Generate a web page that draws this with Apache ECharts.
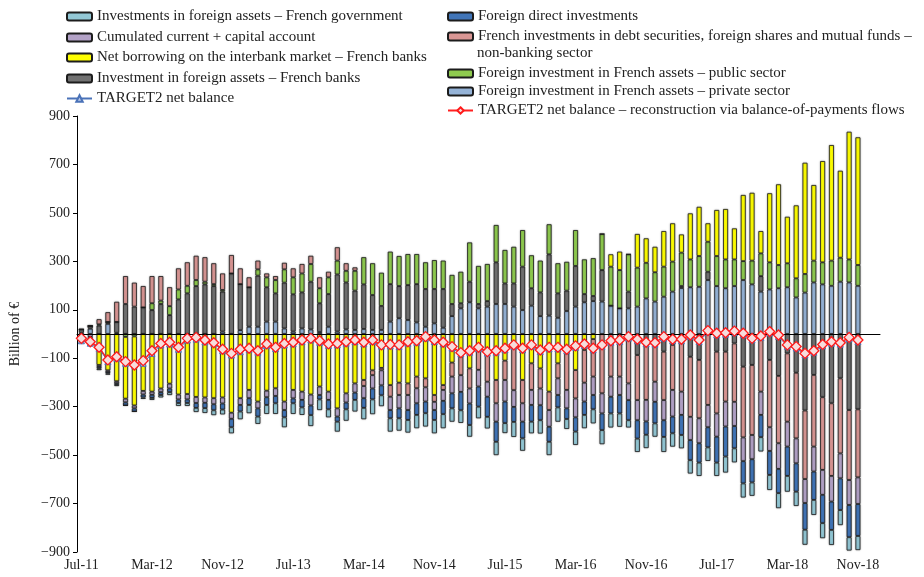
<!DOCTYPE html>
<html>
<head>
<meta charset="utf-8">
<script src="https://cdn.jsdelivr.net/npm/echarts@6/dist/echarts.min.js"></script>
<style>html,body{margin:0;padding:0;background:#fff}#chart{width:924px;height:577px}</style>
</head>
<body>
<div id="chart"></div>
<script>
var chart = echarts.init(document.getElementById('chart'));

var FONT = '"Liberation Serif", "DejaVu Serif", serif';

// months Jul-11 .. Nov-18, plus two empty slots at the right end of the axis
var monthNames = ['Jan','Feb','Mar','Apr','May','Jun','Jul','Aug','Sep','Oct','Nov','Dec'];
var months = [];
for (var k = 0; k < 89; k++) {
  months.push(monthNames[(6 + k) % 12] + '-' + (11 + Math.floor((6 + k) / 12)));
}
months.push('', '');

var yTicks = [-900, 900, 200];

// billion €
var privateSector = [5,22,0,42,5,0,0,0,0,0, 0,0,0,0,0,0,10,0,16,30, 30,51,51,23,10,23,19,8,30,10,
  19,17,21,17,17,51,65,58,48,30, 44,26,74,106,131,106,113,124,124,113, 99,117,74,76,67,95,113,131,136,134,
  117,106,106,113,147,134,154,175,190,193, 195,223,198,189,198,223,205,175,184,189, 193,151,171,213,205,199,216,213,199];
var banksInvest = [14,11,35,8,45,124,113,110,99,124, 78,143,168,198,205,198,165,250,190,163,
  211,142,117,189,154,149,197,119,135,236, 194,162,184,144,99,155,133,144,158,156,
  142,160,50,21,85,18,23,172,85,96, 179,72,98,253,101,84,168,34,21,130,
  0,0,69,-87,-45,-39,-73,-45,8,-94, -107,34,-73,-73,-39,-135,-128,64,-107,-173,
  -80,-160,-316,-169,-261,-286,-183,-314,-311];
var publicSector = [0,0,5,0,0,-12,-10,0,28,14, 37,41,31,25,11,8,7,0,0,0,
  26,41,55,55,70,78,73,62,69,57, 48,82,112,131,137,134,124,128,124,110,
  119,117,120,130,162,157,153,154,138,151, 151,136,131,124,124,119,148,143,156,149,
  161,158,154,161,147,121,124,124,138,115, 127,124,124,119,110,78,98,94,112,96,
  99,79,77,90,91,104,99,95,86];
var interbank = [0,0,-128,-150,-195,-255,-285,-235,-238,-225, -205,-250,-248,-260,-262,-265,-262,-325,-265,-231,
  -279,-234,-224,-279,-231,-238,-250,-217,-238,-307, -245,-204,-190,-150,-140,-211,-201,-204,-176,-183,
  -252,-211,-118,-94,-142,-45,-87,-190,-110,-39, -190,-121,-142,-238,-121,-80,-149,-66,-21,0,
  51,76,0,139,101,105,147,158,75,190, 203,76,190,208,128,273,280,92,285,333,
  192,301,459,312,418,477,359,527,527];
var debtSecurities = [0,0,21,40,83,115,99,88,112,101, 78,87,97,100,101,86,68,76,65,41,
  36,16,16,27,37,39,34,45,23,55, 31,14,-25,-20,-10,-48,-51,-48,-48,-37,
  -28,-20,-58,-76,-83,-103,-110,-96,-80,-193, -96,-110,-83,-76,-62,-151,-117,-135,-155,-245,
  -176,-176,-204,-186,-227,-158,-200,-186,-238,-248, -241,-293,-255,-206,-241,-292,-289,-238,-278,-278,
  -282,-271,-283,-296,-300,-300,-310,-289,-281];
var currentAccount = [-10,-12,-8,-7,-8,-15,-12,-15,-13,-15, -20,-20,-22,-25,-22,-25,-25,-25,-28,-34,
  -28,-27,-32,-35,-35,-34,-45,-35,-34,-34, -38,-38,-50,-55,-62,-55,-55,-62,-62,-59,
  -34,-45,-69,-69,-62,-69,-62,-76,-89,-69, -76,-62,-69,-69,-69,-76,-78,-78,-76,-83,
  -83,-76,-69,-83,-89,-83,-83,-110,-96,-96, -103,-92,-96,-103,-100,-98,-100,-96,-98,-106,
  -103,-103,-99,-103,-103,-106,-103,-103,-110];
var fdi = [-18,-18,-7,-6,-7,-13,-13,-12,-13,-12, -15,-15,-15,-20,-22,-25,-25,-35,-27,-28,
  -34,-32,-30,-30,-20,-31,-40,-18,-39,-21, -28,-30,-40,-45,-41,-34,-41,-41,-48,-48,
  -41,-55,-62,-76,-89,-83,-83,-83,-89,-62, -69,-69,-62,-62,-51,-44,-59,-55,-59,-69,
  -69,-76,-83,-76,-55,-89,-69,-69,-83,-83, -80,-83,-107,-124,-92,-92,-96,-92,-99,-100,
  -121,-117,-110,-117,-117,-117,-131,-133,-132];
var government = [-10,-15,-6,-5,-5,0,0,-6,-8,-10, -12,-12,-12,-17,-20,-20,-20,-25,-32,-34,
  -30,-37,-44,-41,-44,-31,-45,-44,-33,-41, -47,-48,-47,-61,-45,-55,-51,-52,-55,-55,
  -55,-58,-55,-52,-48,-48,-48,-55,-41,-62, -51,-48,-55,-55,-59,-41,-55,-55,-58,-58,
  -58,-55,-30,-55,-55,-55,-62,-55,-55,-55, -55,-56,-55,-66,-58,-58,-55,-59,-62,-62,
  -65,-59,-62,-62,-62,-62,-62,-55,-58];
var target2 = [-28,-38,-59,-114,-100,-121,-128,-121,-80,-45, -41,-63,-25,-21,-32,-38,-69,-87,-73,-63,
  -75,-48,-60,-45,-40,-31,-24,-34,-47,-44, -38,-31,-40,-31,-50,-49,-51,-38,-34,-17,
  -31,-40,-58,-82,-75,-61,-79,-75,-65,-51, -65,-51,-72,-61,-61,-69,-55,-47,-65,-51,
  -34,-31,-17,-28,-40,-42,-17,-28,-28,-10, -31,8,-3,-1,6,-3,-24,-14,4,-10,
  -51,-58,-86,-75,-49,-38,-42,-20,-31];
var target2Rebuilt = [-18,-32,-55,-107,-94,-114,-128,-110,-69,-39, -34,-55,-18,-14,-25,-36,-63,-80,-63,-59,
  -69,-41,-55,-39,-34,-25,-18,-28,-41,-39, -32,-25,-34,-25,-45,-43,-45,-32,-28,-11,
  -25,-34,-52,-77,-69,-55,-73,-69,-59,-45, -59,-45,-66,-55,-55,-63,-49,-41,-59,-45,
  -28,-25,-11,-22,-34,-36,-11,-22,-22,-4, -25,14,3,5,12,3,-18,-8,10,-4,
  -45,-52,-80,-69,-43,-32,-36,-14,-25];

var N_GOV = 'Investments in foreign assets – French government';
var N_CA = 'Cumulated current + capital account';
var N_IB = 'Net borrowing on the interbank market – French banks';
var N_BK = 'Investment in foreign assets – French banks';
var N_T2 = 'TARGET2 net balance';
var N_FDI = 'Foreign direct investments';
var N_DS = 'French investments in debt securities, foreign shares and mutual funds – non-banking sector';
var N_PUB = 'Foreign investment in French assets – public sector';
var N_PRV = 'Foreign investment in French assets – private sector';
var N_T2R = 'TARGET2 net balance – reconstruction via balance-of-payments flows';

function bar(name, data, color) {
  return {
    name: name, type: 'bar', stack: 'bop', data: data, barWidth: 5,
    itemStyle: {
      color: color, borderColor: '#1c1c1c', borderWidth: 0.8,
      shadowColor: 'rgba(0,0,0,0.35)', shadowBlur: 2
    },
    emphasis: { disabled: true }
  };
}

function legendItem(name, left, top, fmt) {
  return {
    data: [name], left: left, top: top, padding: 0, itemWidth: 25, itemHeight: 8,
    selectedMode: false, formatter: fmt,
    textStyle: { fontFamily: FONT, fontSize: 15, color: '#222' }
  };
}

var option = {
  animation: false,
  textStyle: { fontFamily: FONT },
  grid: { left: 77, right: 44, top: 116, bottom: 25 },
  legend: [
    legendItem(N_GOV, 66, 9),
    legendItem(N_CA, 66, 30),
    legendItem(N_IB, 66, 50),
    legendItem(N_BK, 66, 71),
    legendItem(N_T2, 66, 91),
    legendItem(N_FDI, 447, 9),
    legendItem(N_DS, 447, 29, function () { return 'French investments in debt securities, foreign shares and mutual funds –'; }),
    legendItem(N_PUB, 447, 66),
    legendItem(N_PRV, 447, 84),
    legendItem(N_T2R, 447, 103)
  ],
  graphic: [{
    type: 'text', left: 477, top: 46,
    style: { text: 'non-banking sector', font: '15px ' + FONT, fill: '#222' }
  }],
  xAxis: {
    type: 'category', data: months,
    axisLine: { lineStyle: { color: '#000', width: 1 } },
    axisTick: { alignWithLabel: true, interval: 7, length: 4, lineStyle: { color: '#000' } },
    axisLabel: { interval: 7, color: '#222', fontSize: 14, fontFamily: FONT, margin: 6 }
  },
  yAxis: {
    type: 'value', min: yTicks[0], max: yTicks[1], interval: yTicks[2],
    name: 'Billion of €', nameLocation: 'middle', nameGap: 55, nameRotate: 90,
    nameTextStyle: { color: '#222', fontSize: 14, fontFamily: FONT },
    axisLine: { show: true, lineStyle: { color: '#000', width: 1 } },
    axisTick: { show: true, length: 4, lineStyle: { color: '#000' } },
    splitLine: { show: false },
    axisLabel: {
      color: '#222', fontSize: 14, fontFamily: FONT, margin: 7,
      formatter: function (v) { return v < 0 ? '\u2212' + Math.abs(v) : String(v); }
    }
  },
  series: [
    bar(N_PRV, privateSector, '#95b3d7'),
    bar(N_BK, banksInvest, '#717171'),
    bar(N_PUB, publicSector, '#8fcb4f'),
    bar(N_IB, interbank, '#ffff00'),
    bar(N_DS, debtSecurities, '#d99694'),
    bar(N_CA, currentAccount, '#b3a2c7'),
    bar(N_FDI, fdi, '#4175b8'),
    bar(N_GOV, government, '#93c8d6'),
    {
      name: N_T2, type: 'line', data: target2, z: 4,
      symbol: 'triangle', symbolSize: 6, showAllSymbol: true,
      lineStyle: { color: '#4a72b8', width: 1 },
      itemStyle: { color: '#b8c8e6', borderColor: '#4a72b8', borderWidth: 1 },
      emphasis: { disabled: true },
      markLine: {
        silent: true, symbol: 'none', label: { show: false },
        lineStyle: { color: '#000', width: 1, type: 'solid' },
        data: [{ yAxis: 0 }]
      }
    },
    {
      name: N_T2R, type: 'line', data: target2Rebuilt, z: 5,
      symbol: 'diamond', symbolSize: 10, showAllSymbol: true,
      lineStyle: { color: '#ff2020', width: 1.5 },
      itemStyle: { color: '#f6dcdc', borderColor: '#ff1a1a', borderWidth: 1.3 },
      emphasis: { disabled: true }
    }
  ]
};

chart.setOption(option);
</script>
</body>
</html>
